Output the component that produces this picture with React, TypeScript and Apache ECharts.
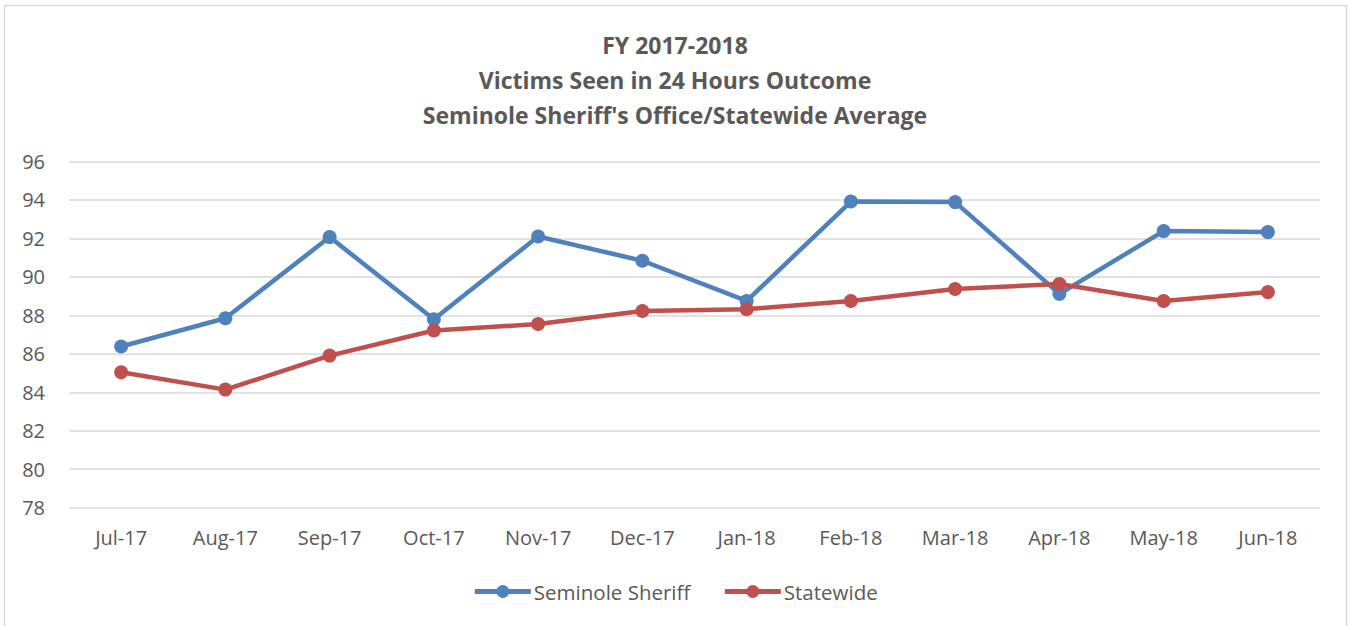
import React, { useEffect, useRef } from "react";
import * as echarts from "echarts";

const categories = ["Jul-17", "Aug-17", "Sep-17", "Oct-17", "Nov-17", "Dec-17", "Jan-18", "Feb-18", "Mar-18", "Apr-18", "May-18", "Jun-18"];
const seminole = [86.38, 87.85, 92.07, 87.8, 92.1, 90.84, 88.75, 93.92, 93.89, 89.12, 92.38, 92.33];
const statewide = [85.04, 84.14, 85.91, 87.21, 87.55, 88.23, 88.32, 88.75, 89.37, 89.63, 88.75, 89.21];
const titleLines = ["FY 2017-2018", "Victims Seen in 24 Hours Outcome", "Seminole Sheriff's Office/Statewide Average"];

const FONT = "'Open Sans', sans-serif";
const GRAY = "#595959";

export default function App() {
  const ref = useRef<HTMLDivElement>(null);
  useEffect(() => {
    if (!ref.current) return;
    const chart = echarts.init(ref.current, null, { renderer: "svg" });
    chart.setOption({
      animation: false,
      backgroundColor: "#ffffff",
      textStyle: { fontFamily: FONT },
      title: {
        text: titleLines.join("\n"),
        left: "center",
        top: 22,
        textStyle: { fontFamily: FONT, fontSize: 23, fontWeight: "bold", color: GRAY, lineHeight: 35 },
      },
      graphic: [
        {
          type: "rect",
          shape: { x: 4.5, y: 5.5, width: 1342, height: 640 },
          style: { fill: "none", stroke: "#D9D9D9", lineWidth: 1.5 },
          silent: true,
        },
      ],
      grid: { left: 69, right: 30, top: 161.5, bottom: 118.3, containLabel: false },
      legend: {
        bottom: 19,
        left: "center",
        itemWidth: 56,
        itemHeight: 16,
        itemGap: 32,
        lineStyle: { width: 5 },
        textStyle: { fontFamily: FONT, fontSize: 20.5, color: GRAY, padding: [0, 0, 0, -2] },
        data: ["Seminole Sheriff", "Statewide"],
      },
      xAxis: {
        type: "category",
        data: categories,
        boundaryGap: true,
        axisLine: { show: false },
        axisTick: { show: false },
        axisLabel: { fontFamily: FONT, fontSize: 20, color: GRAY, margin: 20 },
      },
      yAxis: {
        type: "value",
        min: 78,
        max: 96,
        interval: 2,
        axisLine: { show: false },
        axisTick: { show: false },
        axisLabel: { fontFamily: FONT, fontSize: 20, color: GRAY, margin: 24 },
        splitLine: { lineStyle: { color: "#D9D9D9", width: 1.5 } },
      },
      series: [
        {
          name: "Seminole Sheriff",
          type: "line",
          data: seminole,
          symbol: "circle",
          symbolSize: 14,
          itemStyle: { color: "#4F81BD" },
          lineStyle: { color: "#4F81BD", width: 4.5 },
        },
        {
          name: "Statewide",
          type: "line",
          data: statewide,
          symbol: "circle",
          symbolSize: 14,
          itemStyle: { color: "#C0504D" },
          lineStyle: { color: "#C0504D", width: 4.5 },
        },
      ],
    });
    return () => chart.dispose();
  }, []);
  return (
    <div
      ref={ref}
      style={{ position: "absolute", left: 0, top: 0, width: 1350, height: 626 }}
    />
  );
}
